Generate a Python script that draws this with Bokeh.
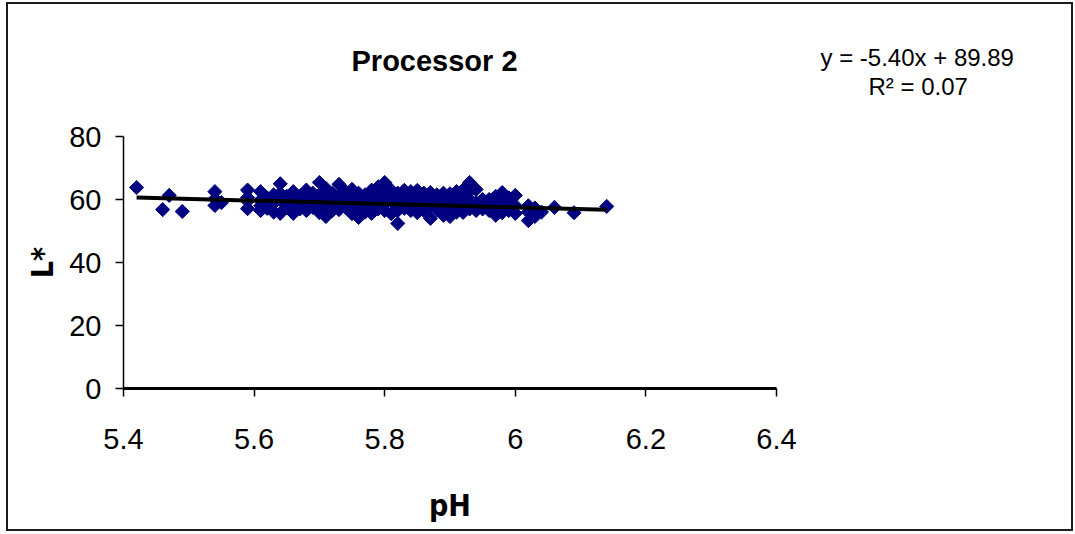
import math
from bokeh.plotting import figure
from bokeh.models import FixedTicker, Range1d, Title
from bokeh.embed import file_html
from bokeh.resources import INLINE

title_text = "Processor 2"
x_label = "pH"
y_label = "L*"
eq_text = "y = -5.40x + 89.89"
r2_text = "R\u00b2 = 0.07"
trend_slope = -5.40
trend_intercept = 89.89
x_ticks = [5.4, 5.6, 5.8, 6.0, 6.2, 6.4]
x_tick_labels = ["5.4", "5.6", "5.8", "6", "6.2", "6.4"]
y_ticks = [0, 20, 40, 60, 80]

ph = [5.42, 5.46, 5.47, 5.49, 5.54, 5.54, 5.54, 5.55, 5.59, 5.59, 5.59, 5.59,
      5.61, 5.61, 5.61, 5.61, 5.62, 5.62, 5.63, 5.63, 5.63, 5.64, 5.64, 5.64, 5.64,
      5.65, 5.65, 5.65, 5.66, 5.66, 5.66, 5.66, 5.67, 5.67, 5.67, 5.68, 5.68, 5.68, 5.68,
      5.69, 5.69, 5.69, 5.70, 5.70, 5.70, 5.70, 5.70, 5.71, 5.71, 5.71, 5.71,
      5.72, 5.72, 5.72, 5.73, 5.73, 5.73, 5.73, 5.73, 5.74, 5.74, 5.74,
      5.75, 5.75, 5.75, 5.75, 5.76, 5.76, 5.76, 5.76, 5.76, 5.77, 5.77, 5.77,
      5.78, 5.78, 5.78, 5.78, 5.78, 5.79, 5.79, 5.79, 5.79, 5.80, 5.80, 5.80, 5.80, 5.80,
      5.81, 5.81, 5.81, 5.81, 5.82, 5.82, 5.82, 5.82, 5.82, 5.83, 5.83, 5.83, 5.83,
      5.84, 5.84, 5.84, 5.84, 5.85, 5.85, 5.85, 5.85, 5.86, 5.86, 5.86, 5.86,
      5.87, 5.87, 5.87, 5.87, 5.88, 5.88, 5.88, 5.89, 5.89, 5.89, 5.89,
      5.90, 5.90, 5.90, 5.90, 5.91, 5.91, 5.91, 5.91, 5.92, 5.92, 5.92, 5.92,
      5.93, 5.93, 5.93, 5.93, 5.94, 5.94, 5.94, 5.95, 5.95, 5.95, 5.96, 5.96, 5.96,
      5.97, 5.97, 5.97, 5.98, 5.98, 5.98, 5.98, 5.99, 5.99, 5.99, 6.00, 6.00, 6.00,
      6.02, 6.02, 6.02, 6.03, 6.03, 6.03, 6.04, 6.06, 6.09, 6.14]
lstar = [63.8, 56.8, 61.3, 56.2, 62.5, 58.1, 60.2, 59.0, 63.0, 60.6, 57.1, 59.5,
         62.5, 56.5, 59.8, 58.0, 60.5, 57.2, 61.5, 56.0, 58.8, 65.0, 55.6, 60.0, 62.0,
         59.0, 57.5, 61.0, 62.5, 55.6, 60.2, 58.3, 61.0, 57.0, 59.5, 63.0, 56.5, 60.5, 58.5,
         62.0, 57.5, 59.8, 65.4, 55.8, 61.5, 59.0, 57.3, 54.6, 63.5, 60.0, 58.0,
         62.0, 56.5, 59.5, 64.8, 56.8, 61.0, 58.5, 60.2, 62.5, 57.5, 59.7,
         63.2, 55.5, 60.5, 58.0, 54.3, 62.0, 59.0, 57.0, 60.8, 61.5, 56.0, 58.8,
         55.6, 63.0, 60.0, 58.2, 61.7, 62.5, 57.0, 59.3, 64.0, 65.4, 56.5, 60.8, 58.5, 62.5,
         63.0, 55.5, 59.5, 61.5, 52.4, 62.0, 58.0, 60.2, 56.5, 62.9, 57.2, 59.8, 61.2,
         62.5, 56.5, 58.7, 60.5, 62.9, 58.0, 60.0, 55.8, 62.0, 56.5, 59.2, 61.0,
         62.2, 54.0, 58.0, 60.3, 61.5, 56.8, 59.0, 62.0, 55.0, 58.5, 60.5,
         61.8, 54.6, 57.5, 59.8, 62.5, 56.0, 59.2, 60.8, 63.0, 55.9, 58.5, 61.0,
         65.4, 57.0, 60.0, 62.5, 63.2, 56.5, 59.0, 60.0, 58.0, 57.0, 60.0, 58.0, 56.5,
         61.0, 55.0, 58.5, 62.2, 57.0, 59.5, 55.8, 60.5, 56.5, 58.3, 61.3, 55.6, 58.0,
         58.0, 53.3, 56.0, 56.8, 54.6, 57.3, 56.0, 57.5, 55.8, 57.8]

W, H = 1067, 529
FL, FB = 115, 384  # frame left / bottom in canvas px

p = figure(width=W, height=H, output_backend="svg", toolbar_location=None,
           x_range=Range1d(5.4, 6.4), y_range=Range1d(0, 80),
           min_border_left=FL, min_border_right=W - 768,
           min_border_top=132, min_border_bottom=H - FB)
p.title = None
p.margin = (2, 0, 0, 6)
p.styles = {"border": "2px solid #1c1c1c"}
p.outline_line_color = None
p.xgrid.visible = False
p.ygrid.visible = False
p.background_fill_color = "white"
p.border_fill_color = "white"

NARROW = "DejaVu Sans Condensed"

xa = p.xaxis[0]
xa.ticker = FixedTicker(ticks=x_ticks)
xa.major_label_overrides = {t: s for t, s in zip(x_ticks, x_tick_labels)}
xa.axis_line_width = 3
xa.axis_line_color = "black"
xa.major_tick_line_color = "black"
xa.major_tick_line_width = 1.5
xa.major_tick_out = 8
xa.major_tick_in = 0
xa.minor_tick_line_color = None
xa.major_label_text_font = "Liberation Sans"
xa.major_label_text_font_size = "29px"
xa.major_label_text_color = "black"
xa.major_label_standoff = 32
xa.axis_label = x_label
xa.axis_label_text_font = NARROW
xa.axis_label_text_font_style = "bold"
xa.axis_label_text_font_size = "30px"
xa.axis_label_text_color = "black"
xa.axis_label_standoff = 36

ya = p.yaxis[0]
ya.ticker = FixedTicker(ticks=y_ticks)
ya.axis_line_width = 1.5
ya.axis_line_color = "black"
ya.major_tick_line_color = "black"
ya.major_tick_line_width = 1.5
ya.major_tick_out = 8
ya.major_tick_in = 0
ya.minor_tick_line_color = None
ya.major_label_text_font = "Liberation Sans"
ya.major_label_text_font_size = "29px"
ya.major_label_text_color = "black"
ya.major_label_standoff = 14
ya.axis_label = y_label
ya.axis_label_text_font = NARROW
ya.axis_label_text_font_style = "bold"
ya.axis_label_text_font_size = "30px"
ya.axis_label_text_color = "black"
ya.axis_label_standoff = 6

p.scatter(ph, lstar, marker="square", size=10, angle=math.pi / 4,
          fill_color="#000080", line_color="#000080", line_width=1)

x0, x1 = min(ph), max(ph)
p.line([x0, x1], [trend_slope * x0 + trend_intercept, trend_slope * x1 + trend_intercept],
       line_color="black", line_width=4)

# texts above the frame, stacked outward from the frame
eq_style = dict(text_font="Liberation Sans", text_font_size="24px",
                text_font_style="normal", text_color="black", align="left")
p.add_layout(Title(text=" ", text_font_size="2px", standoff=24), "above")          # spacer
p.add_layout(Title(text=r2_text, offset=745, standoff=16.6, **eq_style), "above")
p.add_layout(Title(text=title_text, align="left", offset=228, standoff=-29.6,
                   text_font="Liberation Sans", text_font_style="bold",
                   text_font_size="29px", text_color="black"), "above")
p.add_layout(Title(text=eq_text, offset=697, standoff=-24.2, **eq_style), "above")

open("out.html", "w").write(file_html(p, INLINE))
